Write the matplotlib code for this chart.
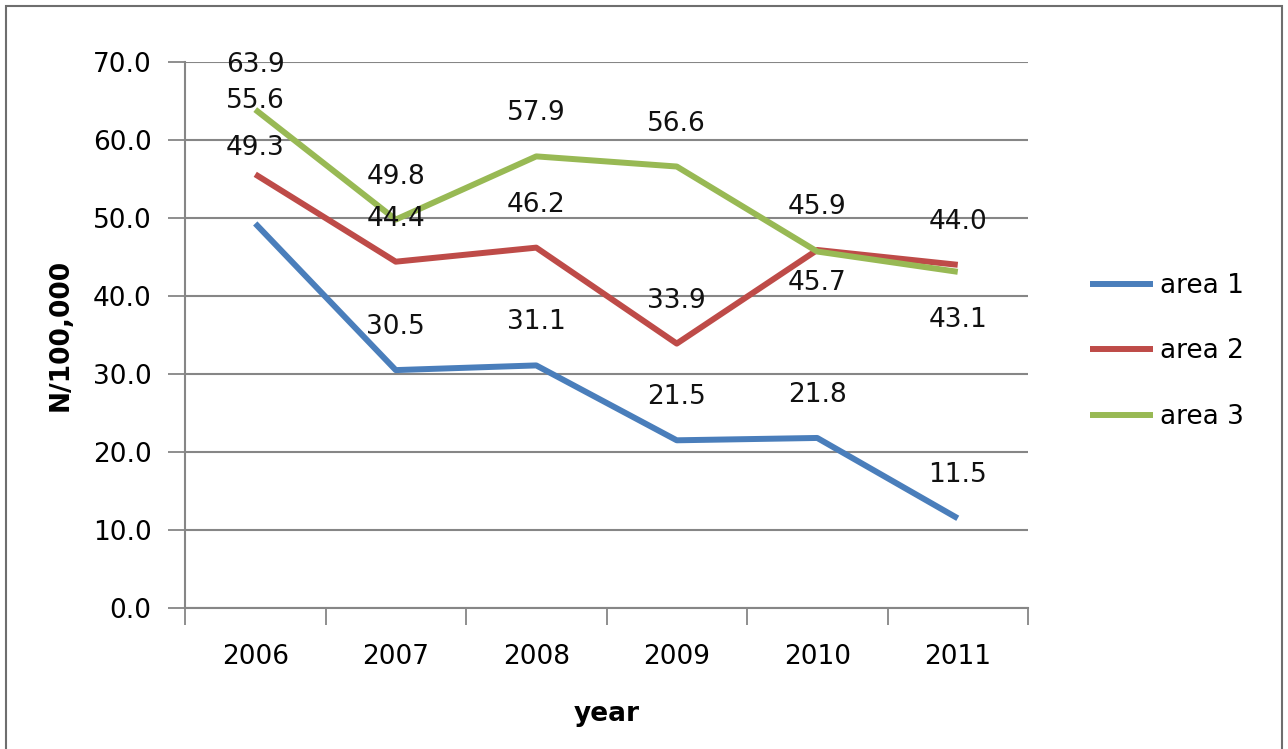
import numpy as np
import matplotlib.pyplot as plt
from matplotlib.patches import Rectangle

years = ["2006", "2007", "2008", "2009", "2010", "2011"]
area1 = [49.3, 30.5, 31.1, 21.5, 21.8, 11.5]
area2 = [55.6, 44.4, 46.2, 33.9, 45.9, 44.0]
area3 = [63.9, 49.8, 57.9, 56.6, 45.7, 43.1]
yticks = [0, 10, 20, 30, 40, 50, 60, 70]

# label offsets in pixels (placement only)
off1 = [75, 43, 43, 43, 43, 43]
off2 = [73, 43, 43, 43, 43, 43]
off3 = [45, 43, 43, 43, -31, -48]

colors = ["#4A7EBB", "#BE4B48", "#98B954"]
fs = 19

fig = plt.figure(figsize=(12.88, 7.49), dpi=100)
ax = fig.add_axes([185 / 1288, 141 / 749, 843 / 1288, 546 / 749])

x = np.arange(len(years))
for vals, offs, c, name in [(area1, off1, colors[0], "area 1"),
                            (area2, off2, colors[1], "area 2"),
                            (area3, off3, colors[2], "area 3")]:
    ax.plot(x, vals, color=c, lw=4.3, label=name, solid_capstyle="butt")
    for xi, v, o in zip(x, vals, offs):
        ax.annotate(f"{v:.1f}", (xi, v), xytext=(0, o), textcoords="offset pixels",
                    ha="center", va="center", fontsize=fs, color="#111111")

ax.set_xlim(-0.5, len(years) - 0.5)
ax.set_ylim(0, 70)
ax.set_yticks(yticks)
ax.set_yticklabels([f"{t:.1f}" for t in yticks])
ax.set_xticks(x)
ax.set_xticklabels(years)
ax.set_xticks(np.arange(-0.5, len(years), 1), minor=True)
ax.tick_params(axis="x", which="major", length=0, pad=26, labelsize=fs)
ax.tick_params(axis="x", which="minor", length=12, width=1.3, color="#868686", direction="out")
ax.tick_params(axis="y", length=12, width=1.3, color="#868686", pad=12, labelsize=fs)
ax.grid(axis="y", color="#868686", lw=1.5)
ax.set_axisbelow(True)
for s in ["top", "right"]:
    ax.spines[s].set_visible(False)
for s in ["left", "bottom"]:
    ax.spines[s].set_color("#868686")
    ax.spines[s].set_linewidth(1.5)

ax.set_xlabel("year", fontsize=19, fontweight="bold", labelpad=22)
ax.set_ylabel("N/100,000", fontsize=19, fontweight="bold", labelpad=14)

ax.legend(loc="center left", bbox_to_anchor=(1.045, 0.47), frameon=False, fontsize=fs,
          handlelength=2.4, handletextpad=0.25, labelspacing=1.5)

fig.patches.append(Rectangle((6 / 1288, -0.1), 1276 / 1288, 1.1 - 6 / 749, transform=fig.transFigure,
                             fill=False, edgecolor="#6e6e6e", lw=1.5))

fig.savefig("out.png", dpi=100)
